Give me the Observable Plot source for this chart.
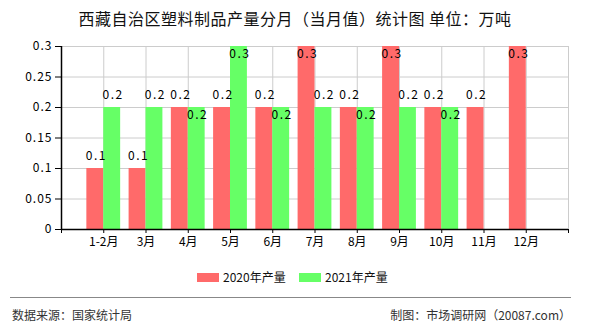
<!DOCTYPE html>
<html>
<head>
<meta charset="utf-8">
<script src="https://cdn.jsdelivr.net/npm/d3@7"></script>
<script src="https://cdn.jsdelivr.net/npm/@observablehq/plot@0.6"></script>
<style>
  html, body { margin: 0; padding: 0; background: #fff; }
  body { width: 590px; height: 330px; position: relative; overflow: hidden; font-family: "Noto Sans CJK SC", sans-serif; }
  #title { position: absolute; left: 0; top: 8px; width: 590px; text-align: center; font-size: 16px; line-height: 20px; color: #111; letter-spacing: 0.5px; }
  #chart { position: absolute; left: 0; top: 36px; }
  #chart g.vlabel text { letter-spacing: 1.5px; }
  #chart g[aria-label="y-axis tick label"] text { letter-spacing: 1px; }
  .legend { position: absolute; top: 270px; font-size: 12px; line-height: 14px; color: #111; }
  .sw { position: absolute; width: 22px; height: 9px; top: 273px; }
  #rule { position: absolute; left: 10px; width: 561px; top: 297px; height: 0; border-top: 1.5px solid #888; }
  .foot { position: absolute; top: 307px; font-size: 12px; color: #333; line-height: 16px; }
</style>
</head>
<body>
<div id="title">西藏自治区塑料制品产量分月（当月值）统计图 单位：万吨</div>
<div id="chart"></div>
<div class="sw" id="sw0" style="left:197px;"></div>
<div class="legend" id="lg0" style="left:223px;"></div>
<div class="sw" id="sw1" style="left:299px;"></div>
<div class="legend" id="lg1" style="left:325px;"></div>
<div id="rule"></div>
<div class="foot" style="left:12px;">数据来源：国家统计局</div>
<div class="foot" style="right:19px;">制图：市场调研网（20087.com）</div>
<script>
const months = ["1-2月","3月","4月","5月","6月","7月","8月","9月","10月","11月","12月"];
const series = ["2020年产量","2021年产量"];
const v2020 = [0.1,0.1,0.2,0.2,0.2,0.3,0.2,0.3,0.2,0.2,0.3];
const v2021 = [0.2,0.2,0.2,0.3,0.2,0.2,0.2,0.2,0.2,null,null];
const colors = ["#FF6A6A","#66FF66"];
const yTicks = [0,0.05,0.1,0.15,0.2,0.25,0.3];
const yMax = 0.3;

document.getElementById("sw0").style.background = colors[0];
document.getElementById("sw1").style.background = colors[1];
document.getElementById("lg0").textContent = series[0];
document.getElementById("lg1").textContent = series[1];

const barW = 0.4;
const rows = [];
months.forEach((m, i) => {
  if (v2020[i] != null) rows.push({i, s: 0, v: v2020[i]});
  if (v2021[i] != null) rows.push({i, s: 1, v: v2021[i]});
});
rows.forEach(d => {
  d.x1 = d.s === 0 ? d.i + 1 - barW : d.i + 1;
  d.x2 = d.s === 0 ? d.i + 1 : d.i + 1 + barW;
  d.xc = (d.x1 + d.x2) / 2;
  d.inside = d.v >= yMax || (d.s === 1 && v2020[d.i] === d.v);
});
const above = rows.filter(d => !d.inside);
const inside = rows.filter(d => d.inside);
const slots = d3.range(months.length + 2);

const plot = Plot.plot({
  width: 590,
  height: 223,
  marginLeft: 61,
  marginRight: 22,
  marginTop: 10,
  marginBottom: 30,
  style: { fontFamily: "'Noto Sans CJK SC', sans-serif", fontSize: "12px", color: "#111", background: "#fff" },
  x: { type: "linear", domain: [0, months.length + 1] },
  y: { domain: [0, yMax] },
  marks: [
    Plot.ruleX(slots, { stroke: "#cccccc", strokeWidth: 1 }),
    Plot.ruleY(yTicks, { stroke: "#cccccc", strokeWidth: 1 }),
    Plot.rect(rows, { x1: "x1", x2: "x2", y1: 0, y2: "v", fill: d => colors[d.s] }),
    Plot.text(above, { x: "xc", y: "v", text: d => d.v.toFixed(1), dy: -12, dx: 1, fill: "#000", fontSize: 12, className: "vlabel" }),
    Plot.text(inside, { x: "xc", y: "v", text: d => d.v.toFixed(1), dy: 8, dx: 1, fill: "#000", fontSize: 12, className: "vlabel" }),
    Plot.axisY({ ticks: yTicks, tickSize: 6, tickPadding: 3, tickFormat: d => String(d), label: null, stroke: "#000", fill: "#000", fontSize: 12 }),
    Plot.axisX({ ticks: slots, tickSize: 4, tickPadding: 4, tickFormat: i => (i >= 1 && i <= months.length) ? months[i - 1] : "", label: null, stroke: "#000", fill: "#000", fontSize: 12 }),
    Plot.ruleX([0], { stroke: "#000", strokeWidth: 1.5 }),
    Plot.ruleY([0], { stroke: "#000", strokeWidth: 1.5 })
  ]
});
document.getElementById("chart").appendChild(plot);
</script>
</body>
</html>
